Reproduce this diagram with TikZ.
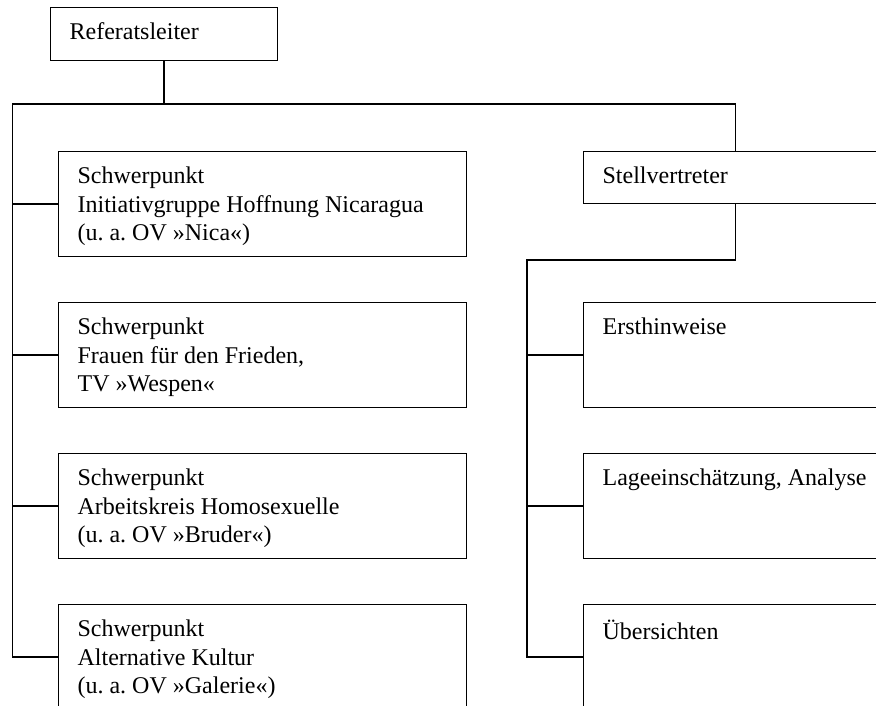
\documentclass[tikz,border=0pt]{standalone}
\usepackage{fontspec}
\setmainfont{Liberation Serif}
\usetikzlibrary{positioning}

\begin{document}
\begin{tikzpicture}[
  node distance=33.75pt and 87pt,
  every node/.style={font=\fontsize{18pt}{21.4pt}\selectfont},
  unit/.style={draw, line width=0.75pt, inner sep=0pt, minimum height=78.75pt, anchor=north west},
  leftunit/.style={unit, minimum width=306pt},
  rightunit/.style={unit, minimum width=228pt},
  caption/.style={anchor=north west, align=left, inner xsep=14.5pt, inner ysep=11.7pt},
  link/.style={line width=0.8pt},
  ]

\clip (0pt,0pt) rectangle (657pt,-529.5pt);

% Head of the unit
\node[unit, minimum width=170.25pt, minimum height=39.75pt,
  label={[caption]north west:{Referatsleiter}}] (leiter) at (37.5pt,-5.25pt) {};
\coordinate (lbus) at (9.4pt,-78pt);
\coordinate (rbus) at (395.25pt,-195pt);

% Left column (Schwerpunkte)
\node[leftunit, label={[caption]north west:{Schwerpunkt\\Initiativgruppe Hoffnung Nicaragua\\(u.\ a.\ OV »Nica«)}}] (nica) at (43.5pt,-113.25pt) {};
\node[leftunit, below=of nica, label={[caption]north west:{Schwerpunkt\\Frauen für den Frieden,\\TV »Wespen«}}] (wespen) {};
\node[leftunit, below=of wespen, label={[caption]north west:{Schwerpunkt\\Arbeitskreis Homosexuelle\\(u.\ a.\ OV »Bruder«)}}] (bruder) {};
\node[leftunit, below=of bruder, label={[caption]north west:{Schwerpunkt\\Alternative Kultur\\(u.\ a.\ OV »Galerie«)}}] (galerie) {};

% Right column (Stellvertreter)
\node[rightunit, minimum height=39pt, label={[caption]north west:{Stellvertreter}}] (stell) at (437.25pt,-113.25pt) {};
\node[rightunit, right=of wespen, label={[caption]north west:{Ersthinweise}}] (erst) {};
\node[rightunit, below=of erst, label={[caption]north west:{Lageeinschätzung, Analyse}}] (lage) {};
\node[rightunit, below=of lage, label={[caption]north west:{Übersichten}}] (uebersicht) {};

% Lines
\draw[link] (leiter.south) -- (leiter.south |- lbus);
\draw[link] (stell.north) |- (lbus) |- (galerie.west);
\foreach \n in {nica,wespen,bruder}
  \draw[link] (lbus |- \n.west) -- (\n.west);
\draw[link] (stell.south) |- (rbus) |- (uebersicht.west);
\foreach \n in {erst,lage}
  \draw[link] (rbus |- \n.west) -- (\n.west);

\end{tikzpicture}
\end{document}
